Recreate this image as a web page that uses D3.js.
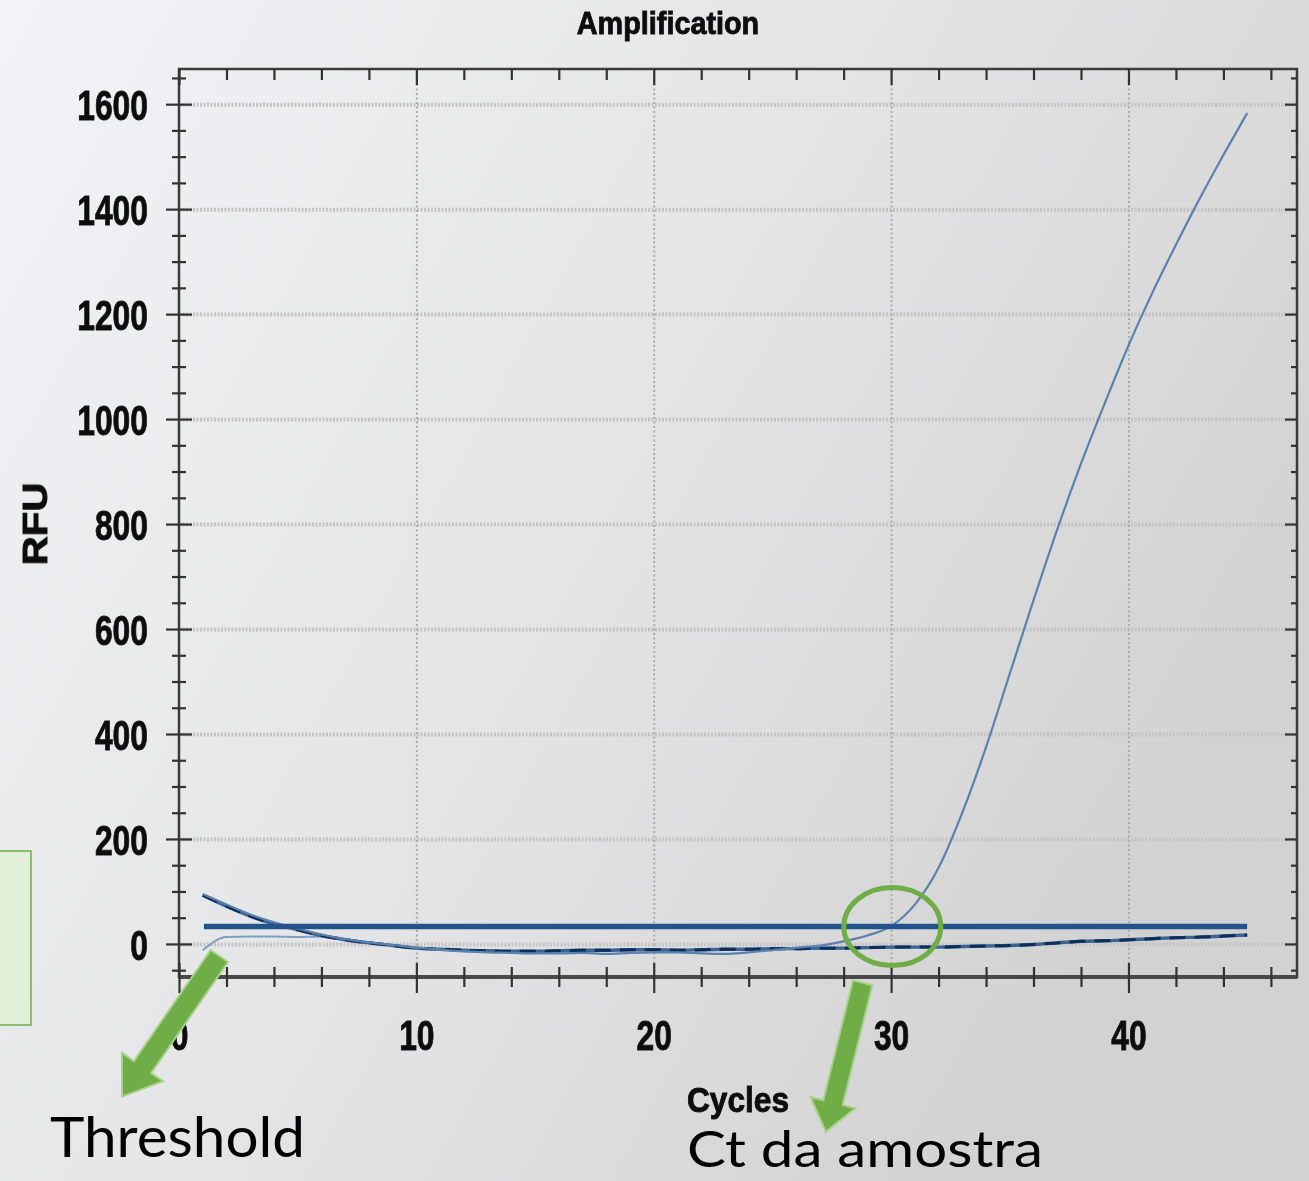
<!DOCTYPE html>
<html>
<head>
<meta charset="utf-8">
<script src="https://cdn.jsdelivr.net/npm/d3@7"></script>
<style>
body{margin:0;overflow:hidden}
svg{display:block}
</style>
</head>
<body>
<script>
// cycles on x, RFU on y
const cycles=d3.range(1,46)
const positive=[95,75,56,41,29,18,9,3,-2,-7,-11,-14,-16,-17,-18,-18,-17,-19,-17,-16,-16,-18,-19,-16,-12,-7,-3,5,16,34,75,145,250,375,515,655,790,915,1030,1140,1240,1332,1420,1503,1583]
const negative=[93,72,53,38,27,16,8,2,-3,-8,-10,-12,-13,-14,-14,-13,-12,-12,-11,-11,-12,-11,-10,-10,-9,-9,-8,-8,-7,-6,-6,-6,-5,-4,-3,-1,2,5,6,8,10,12,13,15,17]
const third=[-12,13,14,14,13,14,8,2,-3,-8,-10,-12,-13,-14,-15,-14,-13,-12,-12,-11,-12,-12,-11,-10,-10,-9,-8,-8,-7,-7,-6,-6,-5,-4,-3,-1,2,4,6,8,10,11,13,15,16]
const threshold=33
const thrRange=[1.05,45]
const yMajor=[0,200,400,600,800,1000,1200,1400,1600]
const xMajor=[0,10,20,30,40]

const W=1309,H=1181
const L=179,R=1297,T=69,B=977
const svg=d3.select("body").append("svg").attr("width",W).attr("height",H)
const defs=svg.append("defs")
const grad=defs.append("linearGradient").attr("id","bg").attr("x1",0).attr("y1",0).attr("x2",1).attr("y2",0.5)
grad.append("stop").attr("offset","0%").attr("stop-color","#f2f3f6")
grad.append("stop").attr("offset","55%").attr("stop-color","#e4e4e6")
grad.append("stop").attr("offset","100%").attr("stop-color","#d2d2d2")
defs.append("filter").attr("id","soft").append("feGaussianBlur").attr("stdDeviation",0.6)
svg.append("rect").attr("width",W).attr("height",H).attr("fill","url(#bg)")

const x=d3.scaleLinear().domain([0,47.1]).range([L,R])
const y=d3.scaleLinear().domain([-63,1667]).range([B,T])

const g=svg.append("g").attr("filter","url(#soft)")

// grid
g.append("g").attr("transform",`translate(${L},0)`)
.call(d3.axisLeft(y).tickValues(yMajor).tickSize(-(R-L)).tickFormat(""))
.call(a=>{a.select(".domain").remove();a.selectAll("line").attr("stroke","#c4c4c4").attr("stroke-width",4).attr("stroke-dasharray","2,1.5")})
g.append("g").attr("transform",`translate(0,${B})`)
.call(d3.axisBottom(x).tickValues(xMajor.slice(1)).tickSize(-(B-T)).tickFormat(""))
.call(a=>{a.select(".domain").remove();a.selectAll("line").attr("stroke","#ababab").attr("stroke-width",2).attr("stroke-dasharray","2,2.5")})

// frame
g.append("rect").attr("x",L).attr("y",T).attr("width",R-L).attr("height",B-T).attr("fill","none").attr("stroke","#3a3a3a").attr("stroke-width",2.5)
g.append("line").attr("x1",L).attr("x2",R).attr("y1",B).attr("y2",B).attr("stroke","#4a4a4a").attr("stroke-width",4)

const yMinor=d3.range(-50,1651,50).filter(v=>v%200!==0)
const xMinor=d3.range(2,47,2).filter(v=>v%10!==0)
const tickStyle=a=>{a.select(".domain").remove();a.selectAll("line").attr("stroke","#333").attr("stroke-width",2.2)}
// left ticks (crossing)
g.append("g").attr("transform",`translate(${L},0)`).call(d3.axisLeft(y).tickValues(yMinor).tickSize(7).tickFormat("")).call(tickStyle).selectAll("line").attr("x1",7)
g.append("g").attr("transform",`translate(${L},0)`).call(d3.axisLeft(y).tickValues(yMajor).tickSize(13).tickFormat("")).call(tickStyle).selectAll("line").attr("x1",13)
// right ticks (inside)
g.append("g").attr("transform",`translate(${R},0)`).call(d3.axisLeft(y).tickValues(yMinor).tickSize(6).tickFormat("")).call(tickStyle)
g.append("g").attr("transform",`translate(${R},0)`).call(d3.axisLeft(y).tickValues(yMajor).tickSize(12).tickFormat("")).call(tickStyle)
// bottom ticks
g.append("g").attr("transform",`translate(0,${B})`).call(d3.axisBottom(x).tickValues(xMinor).tickSize(10).tickFormat("")).call(tickStyle).selectAll("line").attr("y1",-10)
g.append("g").attr("transform",`translate(0,${B})`).call(d3.axisBottom(x).tickValues(xMajor).tickSize(16).tickFormat("")).call(tickStyle).selectAll("line").attr("y1",-14)
// top ticks
g.append("g").attr("transform",`translate(0,${T})`).call(d3.axisBottom(x).tickValues(xMinor).tickSize(11).tickFormat("")).call(tickStyle)
g.append("g").attr("transform",`translate(0,${T})`).call(d3.axisBottom(x).tickValues(xMajor).tickSize(16).tickFormat("")).call(tickStyle)

// labels
const bold=s=>s.attr("font-family","'Liberation Sans',Arial,sans-serif").attr("font-weight","bold").attr("fill","#111").attr("stroke","#111").attr("stroke-width",0.9)
const lab=a=>{a.select(".domain").remove();bold(a.selectAll("text")).attr("font-size",43)}
g.append("g").attr("transform",`translate(${L},0)`)
.call(d3.axisLeft(y).tickValues(yMajor).tickSize(0).tickPadding(0).tickFormat(d3.format("d")))
.call(lab).selectAll("text").attr("x",0).attr("dy","0.36em").attr("transform","translate(-31,0) scale(0.74,1)")
g.append("g").attr("transform",`translate(0,${B})`)
.call(d3.axisBottom(x).tickValues(xMajor).tickSize(0).tickPadding(0).tickFormat(d3.format("d")))
.call(lab).selectAll("text").attr("y",0).attr("dy","0").attr("transform","translate(0,73) scale(0.74,1)")

bold(g.append("text")).attr("transform","translate(668,34) scale(0.9,1)").attr("text-anchor","middle").attr("font-size",32).text("Amplification")
bold(g.append("text")).attr("transform","translate(47,524) rotate(-90) scale(1.15,1)").attr("text-anchor","middle").attr("font-size",35).text("RFU")
bold(g.append("text")).attr("transform","translate(738,1112) scale(0.88,1)").attr("text-anchor","middle").attr("font-size",36).text("Cycles")

// curves
const line=d3.line().x((d,i)=>x(cycles[i])).y(d=>y(d)).curve(d3.curveMonotoneX)
const plot=svg.append("g").attr("filter","url(#soft)")
plot.append("path").datum(third).attr("d",line).attr("fill","none").attr("stroke","#7f9fc2").attr("stroke-width",2)
plot.append("path").datum(negative).attr("d",line).attr("fill","none").attr("stroke","#3b6394").attr("stroke-width",3.4)
plot.append("path").datum(negative).attr("d",line).attr("fill","none").attr("stroke","#0f2e5a").attr("stroke-width",3).attr("stroke-dasharray","16,9")
plot.append("path").datum(positive).attr("d",line).attr("fill","none").attr("stroke","#5a82ad").attr("stroke-width",2.2)
plot.append("line").attr("x1",x(thrRange[0])).attr("x2",x(thrRange[1])).attr("y1",y(threshold)).attr("y2",y(threshold))
.attr("stroke","#24538a").attr("stroke-width",5.5)

// annotations
const green="#70ad47"
svg.append("rect").attr("x",-10).attr("y",851).attr("width",41).attr("height",174).attr("fill","#e2efd9").attr("stroke",green).attr("stroke-width",1.5)
svg.append("ellipse").attr("cx",x(30.05)).attr("cy",y(threshold)).attr("rx",48.5).attr("ry",39).attr("fill","none").attr("stroke",green).attr("stroke-width",5)

arrow=(x0,y0,x1,y1,sw,hw,hl)=>{
const dx=x1-x0,dy=y1-y0,len=Math.hypot(dx,dy),ux=dx/len,uy=dy/len,px=-uy,py=ux
const bx=x1-ux*hl,by=y1-uy*hl
const pts=[[x0+px*sw/2,y0+py*sw/2],[bx+px*sw/2,by+py*sw/2],[bx+px*hw/2,by+py*hw/2],[x1,y1],[bx-px*hw/2,by-py*hw/2],[bx-px*sw/2,by-py*sw/2],[x0-px*sw/2,y0-py*sw/2]]
svg.append("path").attr("d","M"+pts.map(p=>p.join(",")).join("L")+"Z").attr("fill",green).attr("stroke","#a9d18e").attr("stroke-width",2)
}
arrow(x(1.7),y(-23),x(-2.4),y(-291),21,50,36)
arrow(x(28.8),y(-74),x(27.25),y(-358),20,46,30)

svg.append("text").attr("x",50).attr("y",1157).attr("font-family","Lato,'Open Sans',sans-serif").attr("font-size",57)
.attr("textLength",255).attr("lengthAdjust","spacingAndGlyphs").attr("fill","#000").text("Threshold")
svg.append("text").attr("x",687).attr("y",1167).attr("font-family","Lato,'Open Sans',sans-serif").attr("font-size",50)
.attr("textLength",356).attr("lengthAdjust","spacingAndGlyphs").attr("fill","#000").text("Ct da amostra")
</script>
</body>
</html>
